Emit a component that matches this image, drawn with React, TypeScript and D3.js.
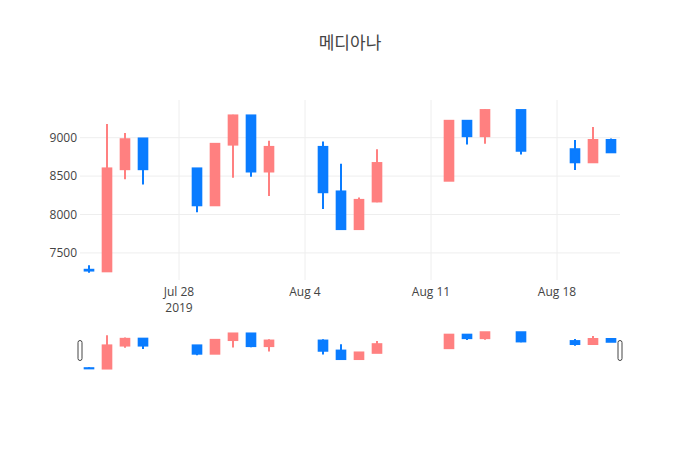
import * as d3 from 'd3';

// 메디아나 daily OHLC, Jul 23 – Aug 21 2019
const dates = [
  '2019-07-23', '2019-07-24', '2019-07-25', '2019-07-26', '2019-07-29',
  '2019-07-30', '2019-07-31', '2019-08-01', '2019-08-02', '2019-08-05',
  '2019-08-06', '2019-08-07', '2019-08-08', '2019-08-12', '2019-08-13',
  '2019-08-14', '2019-08-16', '2019-08-19', '2019-08-20', '2019-08-21',
];
const opens = [7280, 7260, 8590, 8990, 8600, 8120, 8910, 9290, 8560, 8880, 8300, 7810, 8170, 8440, 9220, 9020, 9360, 8850, 8680, 8970];
const highs = [7340, 9180, 9060, 8990, 8600, 8920, 9300, 9290, 8960, 8950, 8660, 8220, 8850, 9230, 9220, 9370, 9360, 8970, 9140, 8990];
const lows = [7240, 7250, 8460, 8390, 8030, 8120, 8480, 8490, 8240, 8070, 7800, 7800, 8160, 8440, 8910, 8920, 8780, 8580, 8670, 8810];
const closes = [7270, 8600, 8980, 8590, 8120, 8920, 9290, 8560, 8880, 8290, 7810, 8190, 8670, 9220, 9020, 9360, 8830, 8680, 8970, 8810];

const title = '메디아나';
const yRange = [7147, 9491];
const xRange = ['2019-07-22 12', '2019-08-21 12'];

const W = 700;
const H = 450;
const margin = { left: 80, right: 80, top: 100 };
const mainBottom = 280;
const sliderTop = 330;
const sliderBottom = 370.5;

const UP = '#ff8080';
const DOWN = '#0a7cff';
const FONT = '"Open Sans", "Noto Sans CJK KR", verdana, arial, sans-serif';

const parse = d3.timeParse('%Y-%m-%d');
const parseH = d3.timeParse('%Y-%m-%d %H');

export default function App() {
  const rows = dates.map((d, i) => ({
    date: parse(d) as Date,
    open: opens[i],
    high: highs[i],
    low: lows[i],
    close: closes[i],
  }));

  const x = d3
    .scaleTime()
    .domain(xRange.map(s => parseH(s) as Date))
    .range([margin.left, W - margin.right]);

  const y = d3.scaleLinear().domain(yRange).range([mainBottom, margin.top]);
  const ys = d3.scaleLinear().domain(yRange).range([sliderBottom, sliderTop]);

  const day = x(d3.timeDay.offset(rows[0].date, 1)) - x(rows[0].date);
  const bw = day * 0.48;

  const xTicks = x.ticks(d3.timeSunday);
  const fmt = d3.timeFormat('%b %-d');
  const yTicks = y.ticks(5);

  const candles = (sc: d3.ScaleLinear<number, number>, key: string) =>
    rows.map((r, i) => {
      const cx = x(r.date);
      const c = r.close >= r.open ? UP : DOWN;
      const top = sc(Math.max(r.open, r.close));
      const bot = sc(Math.min(r.open, r.close));
      return (
        <g key={key + i}>
          <line x1={cx} x2={cx} y1={sc(r.high)} y2={sc(r.low)} stroke={c} strokeWidth={2} />
          <rect x={cx - bw / 2} y={top} width={bw} height={bot - top} fill={c} stroke={c} strokeWidth={2} />
        </g>
      );
    });

  return (
    <svg
      width={W}
      height={H}
      style={{ position: 'absolute', left: 0, top: 0, background: '#fff' }}
      fontFamily={FONT}
    >
      <text x={W / 2} y={49} textAnchor="middle" fontSize={17} fill="#444">
        {title}
      </text>

      {/* grid */}
      {yTicks.map(t => (
        <line key={'gy' + t} x1={margin.left} x2={W - margin.right} y1={y(t)} y2={y(t)} stroke="#eee" />
      ))}
      {xTicks.map(t => (
        <line key={'gx' + +t} x1={x(t)} x2={x(t)} y1={margin.top} y2={mainBottom} stroke="#eee" />
      ))}

      {/* axis labels */}
      {yTicks.map(t => (
        <text key={'ly' + t} x={77} y={y(t)} dy="0.35em" textAnchor="end" fontSize={12} fill="#444">
          {t}
        </text>
      ))}
      {xTicks.map((t, i) => (
        <text key={'lx' + +t} x={x(t)} y={296} textAnchor="middle" fontSize={12} fill="#444">
          {fmt(t)}
          {i === 0 && (
            <tspan x={x(t)} y={312}>
              {d3.timeFormat('%Y')(t)}
            </tspan>
          )}
        </text>
      ))}

      {candles(y, 'm')}

      {/* range slider */}
      <rect
        x={margin.left}
        y={sliderTop}
        width={W - margin.left - margin.right}
        height={sliderBottom - sliderTop}
        fill="#fff"
      />
      {candles(ys, 's')}
      {[margin.left, W - margin.right].map(hx => (
        <rect
          key={'h' + hx}
          x={hx - 2}
          y={340.5}
          width={4}
          height={20}
          rx={2}
          fill="#fff"
          stroke="#444"
          strokeWidth={1}
        />
      ))}
    </svg>
  );
}
